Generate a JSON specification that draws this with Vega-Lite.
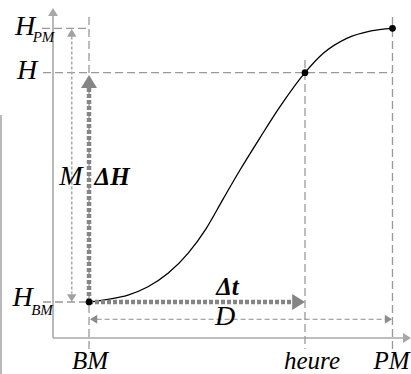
{
  "$schema": "https://vega.github.io/schema/vega-lite/v6.json",
  "width": 411,
  "height": 374,
  "padding": 0,
  "autosize": {"type": "none"},
  "background": "white",
  "config": {"view": {"stroke": null}},
  "datasets": {
    "curve": [
      {"t": 0, "h": 0},
      {"t": 0.375, "h": 0.0099},
      {"t": 0.771, "h": 0.0256},
      {"t": 1.166, "h": 0.0559},
      {"t": 1.562, "h": 0.1049},
      {"t": 1.957, "h": 0.1779},
      {"t": 2.319, "h": 0.2693},
      {"t": 2.65, "h": 0.376},
      {"t": 2.985, "h": 0.4823},
      {"t": 3.38, "h": 0.6},
      {"t": 3.776, "h": 0.7136},
      {"t": 4.27, "h": 0.8378},
      {"t": 4.632, "h": 0.9087},
      {"t": 5.095, "h": 0.9635},
      {"t": 5.555, "h": 0.99},
      {"t": 6, "h": 1}
    ],
    "dashed": [
      {"t": 0, "h": 1.041, "t2": 0, "h2": -0.172},
      {"t": 4.27, "h": 0.884, "t2": 4.27, "h2": -0.172},
      {"t": 6, "h": 1.041, "t2": 6, "h2": -0.172},
      {"t": -0.929, "h": 1, "t2": 0, "h2": 1},
      {"t": -0.909, "h": 0.8378, "t2": 6, "h2": 0.8378},
      {"t": -0.909, "h": 0, "t2": 0, "h2": 0}
    ],
    "axes": [
      {"t": -0.712, "h": -0.1315, "t2": -0.712, "h2": 1.05},
      {"t": -0.712, "h": -0.1315, "t2": 6.25, "h2": -0.1315},
      {"t": -1.74, "h": 0.683, "t2": -1.74, "h2": -0.263}
    ],
    "axisHeads": [
      {"t": -0.712, "h": 1.074, "dir": "up"},
      {"t": 6.366, "h": -0.1315, "dir": "right"}
    ],
    "mline": [
      {"t": -0.342, "h": 0.97, "t2": -0.342, "h2": 0.03}
    ],
    "mHeads": [
      {"t": -0.342, "h": 0.997, "dir": "up"},
      {"t": -0.342, "h": 0.001, "dir": "down"}
    ],
    "thick": [
      {"t": 0, "h": 0, "t2": 0, "h2": 0.785},
      {"t": 0, "h": 0, "t2": 4.03, "h2": 0}
    ],
    "thickHeads": [
      {"t": 0, "h": 0.829, "dir": "up"},
      {"t": 4.27, "h": 0, "dir": "right"}
    ],
    "dline": [
      {"t": 0.15, "h": -0.0632, "t2": 5.85, "h2": -0.0632}
    ],
    "dHeads": [
      {"t": 0.02, "h": -0.0632, "dir": "left"},
      {"t": 5.99, "h": -0.0632, "dir": "right"}
    ],
    "pts": [
      {"t": 0, "h": 0},
      {"t": 4.27, "h": 0.8378},
      {"t": 6, "h": 1}
    ],
    "labelsBig": [
      {"t": -1.265, "h": 0.9755, "text": "H"},
      {"t": -1.226, "h": 0.8148, "text": "H"},
      {"t": -1.315, "h": -0.0146, "text": "H"},
      {"t": -0.36, "h": 0.4275, "text": "M"},
      {"t": 2.69, "h": -0.084, "text": "D"}
    ],
    "labelsSub": [
      {"t": -0.8996, "h": 0.95, "text": "PM"},
      {"t": -0.929, "h": -0.0475, "text": "BM"}
    ],
    "labelsBottom": [
      {"t": 0.02, "h": -0.2448, "text": "BM"},
      {"t": 4.409, "h": -0.2448, "text": "heure"},
      {"t": 5.98, "h": -0.2448, "text": "PM"}
    ],
    "labelDH": [
      {"t": 0.11, "h": 0.4275, "text": "ΔH"}
    ],
    "labelDt": [
      {"t": 2.738, "h": 0.0256, "text": "Δt"}
    ]
  },
  "layer": [
    {
      "data": {"name": "axes"},
      "mark": {"type": "rule", "color": "#a8a8a8", "strokeWidth": 1.6},
      "encoding": {
        "x": {"field": "t", "type": "quantitative", "scale": {"domain": [-1.76, 6.366], "nice": false, "zero": false}, "axis": null},
        "y": {"field": "h", "type": "quantitative", "scale": {"domain": [-0.263, 1.1034], "nice": false, "zero": false}, "axis": null},
        "x2": {"field": "t2"},
        "y2": {"field": "h2"}
      }
    },
    {
      "data": {"name": "dashed"},
      "mark": {"type": "rule", "color": "#999999", "strokeWidth": 1.3, "strokeDash": [8, 4]},
      "encoding": {
        "x": {"field": "t", "type": "quantitative"},
        "y": {"field": "h", "type": "quantitative"},
        "x2": {"field": "t2"},
        "y2": {"field": "h2"}
      }
    },
    {
      "data": {"name": "mline"},
      "mark": {"type": "rule", "color": "#aaaaaa", "strokeWidth": 1.6, "strokeDash": [3, 2]},
      "encoding": {
        "x": {"field": "t", "type": "quantitative"},
        "y": {"field": "h", "type": "quantitative"},
        "x2": {"field": "t2"},
        "y2": {"field": "h2"}
      }
    },
    {
      "data": {"name": "dline"},
      "mark": {"type": "rule", "color": "#8c8c8c", "strokeWidth": 1.1, "strokeDash": [5, 3]},
      "encoding": {
        "x": {"field": "t", "type": "quantitative"},
        "y": {"field": "h", "type": "quantitative"},
        "x2": {"field": "t2"},
        "y2": {"field": "h2"}
      }
    },
    {
      "data": {"name": "curve"},
      "mark": {"type": "line", "color": "#000000", "strokeWidth": 1.3, "interpolate": "monotone"},
      "encoding": {
        "x": {"field": "t", "type": "quantitative"},
        "y": {"field": "h", "type": "quantitative"}
      }
    },
    {
      "data": {"name": "thick"},
      "mark": {"type": "rule", "color": "#858585", "strokeWidth": 4.5, "strokeDash": [4, 2]},
      "encoding": {
        "x": {"field": "t", "type": "quantitative"},
        "y": {"field": "h", "type": "quantitative"},
        "x2": {"field": "t2"},
        "y2": {"field": "h2"}
      }
    },
    {
      "data": {"name": "axisHeads"},
      "mark": {"type": "point", "filled": true, "color": "#a8a8a8", "opacity": 1, "size": 100, "strokeWidth": 0},
      "encoding": {
        "x": {"field": "t", "type": "quantitative"},
        "y": {"field": "h", "type": "quantitative"},
        "shape": {"field": "dir", "type": "nominal", "legend": null, "scale": {"domain": ["up", "down", "left", "right"], "range": ["M0,0L1,1.6L-1,1.6Z", "M0,0L1,-1.6L-1,-1.6Z", "M0,0L1.6,-1L1.6,1Z", "M0,0L-1.6,-1L-1.6,1Z"]}}
      }
    },
    {
      "data": {"name": "mHeads"},
      "mark": {"type": "point", "filled": true, "color": "#a0a0a0", "opacity": 1, "size": 90, "strokeWidth": 0},
      "encoding": {
        "x": {"field": "t", "type": "quantitative"},
        "y": {"field": "h", "type": "quantitative"},
        "shape": {"field": "dir", "type": "nominal", "legend": null}
      }
    },
    {
      "data": {"name": "dHeads"},
      "mark": {"type": "point", "filled": true, "color": "#8c8c8c", "opacity": 1, "size": 81, "strokeWidth": 0},
      "encoding": {
        "x": {"field": "t", "type": "quantitative"},
        "y": {"field": "h", "type": "quantitative"},
        "shape": {"field": "dir", "type": "nominal", "legend": null}
      }
    },
    {
      "data": {"name": "thickHeads"},
      "mark": {"type": "point", "filled": true, "color": "#858585", "opacity": 1, "size": 256, "strokeWidth": 0},
      "encoding": {
        "x": {"field": "t", "type": "quantitative"},
        "y": {"field": "h", "type": "quantitative"},
        "shape": {"field": "dir", "type": "nominal", "legend": null}
      }
    },
    {
      "data": {"name": "pts"},
      "mark": {"type": "circle", "color": "#000000", "opacity": 1, "size": 45},
      "encoding": {
        "x": {"field": "t", "type": "quantitative"},
        "y": {"field": "h", "type": "quantitative"}
      }
    },
    {
      "data": {"name": "labelsBig"},
      "mark": {"type": "text", "font": "Liberation Serif", "fontStyle": "italic", "fontSize": 28, "color": "#000000", "align": "center", "baseline": "alphabetic"},
      "encoding": {
        "x": {"field": "t", "type": "quantitative"},
        "y": {"field": "h", "type": "quantitative"},
        "text": {"field": "text"}
      }
    },
    {
      "data": {"name": "labelsSub"},
      "mark": {"type": "text", "font": "Liberation Serif", "fontStyle": "italic", "fontSize": 15, "color": "#000000", "align": "center", "baseline": "alphabetic"},
      "encoding": {
        "x": {"field": "t", "type": "quantitative"},
        "y": {"field": "h", "type": "quantitative"},
        "text": {"field": "text"}
      }
    },
    {
      "data": {"name": "labelsBottom"},
      "mark": {"type": "text", "font": "Liberation Serif", "fontStyle": "italic", "fontSize": 25, "color": "#000000", "align": "center", "baseline": "alphabetic"},
      "encoding": {
        "x": {"field": "t", "type": "quantitative"},
        "y": {"field": "h", "type": "quantitative"},
        "text": {"field": "text"}
      }
    },
    {
      "data": {"name": "labelDH"},
      "mark": {"type": "text", "font": "Liberation Serif", "fontStyle": "italic", "fontWeight": "bold", "fontSize": 25, "color": "#000000", "align": "left", "baseline": "alphabetic"},
      "encoding": {
        "x": {"field": "t", "type": "quantitative"},
        "y": {"field": "h", "type": "quantitative"},
        "text": {"field": "text"}
      }
    },
    {
      "data": {"name": "labelDt"},
      "mark": {"type": "text", "font": "Liberation Serif", "fontStyle": "italic", "fontWeight": "bold", "fontSize": 25, "color": "#000000", "align": "center", "baseline": "alphabetic"},
      "encoding": {
        "x": {"field": "t", "type": "quantitative"},
        "y": {"field": "h", "type": "quantitative"},
        "text": {"field": "text"}
      }
    }
  ]
}
